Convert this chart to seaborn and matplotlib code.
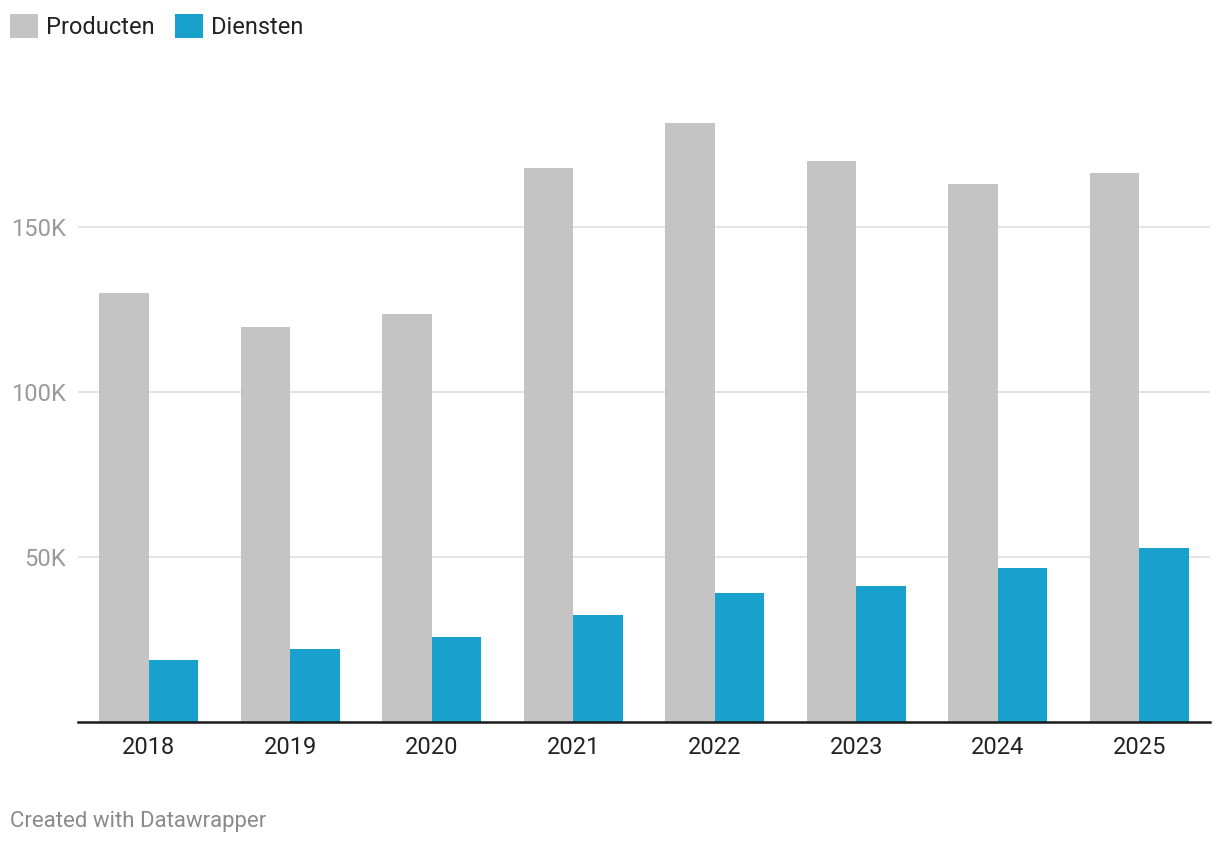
import pandas as pd
import matplotlib.pyplot as plt
import seaborn as sns
from matplotlib.patches import Patch
from matplotlib.ticker import FuncFormatter

years = ['2018', '2019', '2020', '2021', '2022', '2023', '2024', '2025']
producten = [130000, 119800, 123700, 168000, 181500, 170000, 163000, 166400]
diensten = [18800, 22200, 25800, 32400, 39100, 41200, 46700, 52700]
series = ['Producten', 'Diensten']
colors = {'Producten': '#c4c4c4', 'Diensten': '#18a1cd'}

df = pd.DataFrame({
    'jaar': years * 2,
    'serie': ['Producten'] * len(years) + ['Diensten'] * len(years),
    'waarde': producten + diensten,
})

sns.set_style('white')
plt.rcParams['font.family'] = ['Roboto', 'DejaVu Sans']

W, H = 1220, 844
fig = plt.figure(figsize=(W / 100, H / 100), dpi=100)
ymax = 190000
px_per_unit = 3.3 / 1000
top_px = 722 - ymax * px_per_unit
ax = fig.add_axes([78 / W, (H - 722) / H, (1210 - 78) / W, (722 - top_px) / H])

sns.barplot(data=df, x='jaar', y='waarde', hue='serie', hue_order=series,
            palette=colors, width=0.7, gap=0, saturation=1, legend=False,
            edgecolor='none', linewidth=0, ax=ax, zorder=3)

ax.set_xlim(-0.5, len(years) - 0.5)
ax.set_ylim(0, ymax)
ax.set_yticks([50000, 100000, 150000])
ax.yaxis.set_major_formatter(FuncFormatter(lambda v, p: f'{int(v / 1000)}K'))
ax.grid(axis='y', color='#e3e3e3', linewidth=1.4, zorder=0)
ax.set_xlabel('')
ax.set_ylabel('')
for s in ['top', 'right', 'left']:
    ax.spines[s].set_visible(False)
ax.spines['bottom'].set_color('#1a1a1a')
ax.spines['bottom'].set_linewidth(1.8)
ax.spines['bottom'].set_zorder(5)
ax.tick_params(axis='y', length=0, pad=9, labelsize=17, labelcolor='#9a9a9a')
ax.tick_params(axis='x', length=0, pad=10, labelsize=17, labelcolor='#222222')

handles = [Patch(facecolor=colors[s], edgecolor='none', label=s) for s in series]
leg = fig.legend(handles=handles, loc='upper left', bbox_to_anchor=(10 / W, 1 - 14 / H),
                 ncol=2, frameon=False, fontsize=17, handlelength=1.2, handleheight=1.2,
                 handletextpad=0.34, columnspacing=0.85, borderpad=0, borderaxespad=0)
for t in leg.get_texts():
    t.set_color('#222222')

fig.text(10 / W, 1 - 821 / H, 'Created with Datawrapper', fontsize=16,
         color='#8a8a8a', va='center', ha='left')

fig.savefig('out.png', dpi=100)
